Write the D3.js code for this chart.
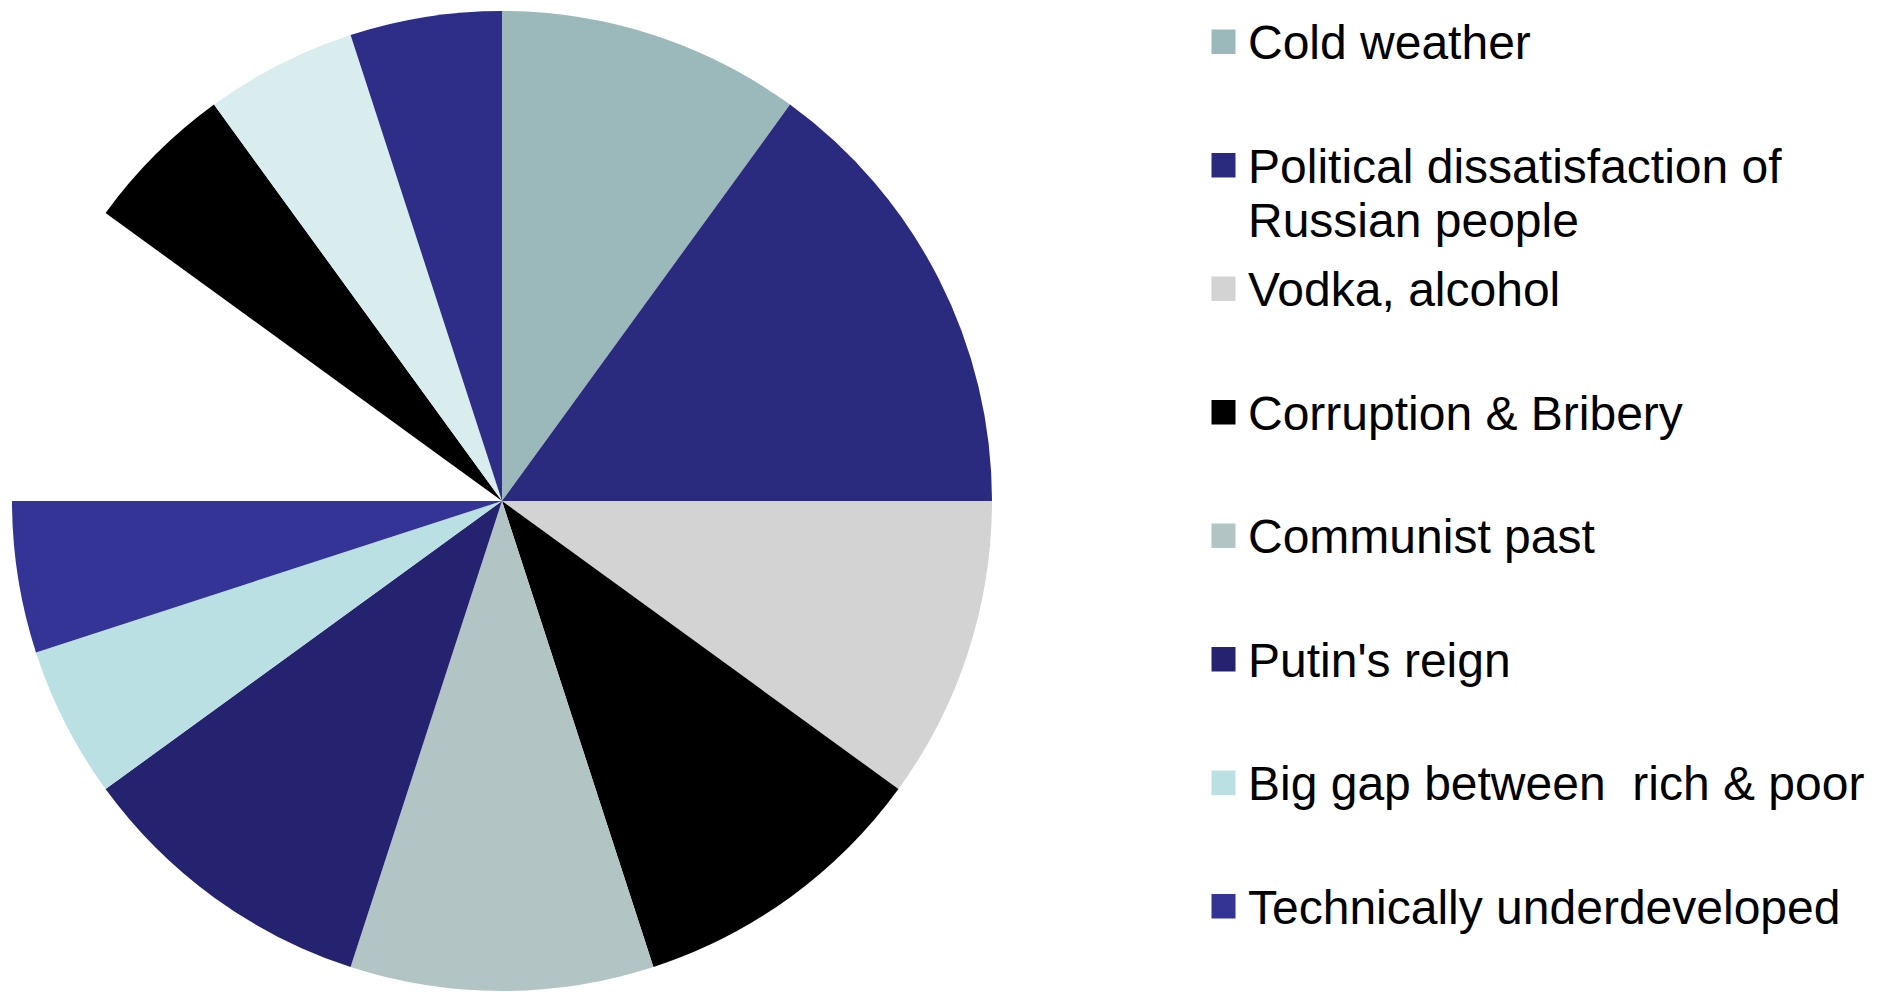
<!DOCTYPE html>
<html>
<head>
<meta charset="utf-8">
<script src="https://cdn.jsdelivr.net/npm/d3@7"></script>
<style>
  html, body { margin: 0; padding: 0; background: #ffffff; }
  svg { display: block; }
</style>
</head>
<body>
<script>
// Share of answers per reason (percent), clockwise from 12 o'clock
const values = [10, 15, 10, 10, 10, 10, 5, 5, 10, 5, 5, 5];
const sliceColors = ["#9BB8BA", "#2A2A7E", "#D3D3D3", "#000000", "#B3C4C5", "#25236F",
                     "#BAE0E3", "#343396", "#FFFFFF", "#000000", "#D9EDEF", "#2E2D87"];

// Legend entries
const legendLabels = [
  ["Cold weather"],
  ["Political dissatisfaction of", "Russian people"],
  ["Vodka, alcohol"],
  ["Corruption & Bribery"],
  ["Communist past"],
  ["Putin's reign"],
  ["Big gap between  rich & poor"],
  ["Technically underdeveloped"]
];

const W = 1880, H = 992;
const svg = d3.select("body").append("svg")
  .attr("width", W).attr("height", H);

// Pie
const cx = 502, cy = 501, R = 490;
const pie = d3.pie().sort(null).value(d => d)
  .startAngle(0).endAngle(2 * Math.PI);
const arc = d3.arc().innerRadius(0).outerRadius(R);

svg.append("g")
  .attr("transform", `translate(${cx},${cy})`)
  .selectAll("path")
  .data(pie(values))
  .join("path")
  .attr("d", arc)
  .attr("fill", (d, i) => sliceColors[i]);

// Legend
const rowY = d3.scaleLinear().domain([0, legendLabels.length - 1]).range([29.5, 894]);
const squareX = 1211.5, squareW = 24, squareH = 24.5;
const textX = 1248, fontSize = 48, lineGap = 54.7;

const rows = svg.append("g").selectAll("g")
  .data(legendLabels)
  .join("g")
  .attr("transform", (d, i) => `translate(0,${rowY(i)})`);

rows.append("rect")
  .attr("x", squareX).attr("y", 0)
  .attr("width", squareW).attr("height", squareH)
  .attr("fill", (d, i) => sliceColors[i]);

rows.append("text")
  .attr("x", textX).attr("y", 29.5)
  .attr("font-family", "'Liberation Sans', Arial, sans-serif")
  .attr("font-size", fontSize)
  .attr("fill", "#000")
  .style("white-space", "pre")
  .selectAll("tspan")
  .data(d => d)
  .join("tspan")
  .attr("x", textX)
  .attr("dy", (d, j) => j === 0 ? 0 : lineGap)
  .text(d => d);
</script>
</body>
</html>
